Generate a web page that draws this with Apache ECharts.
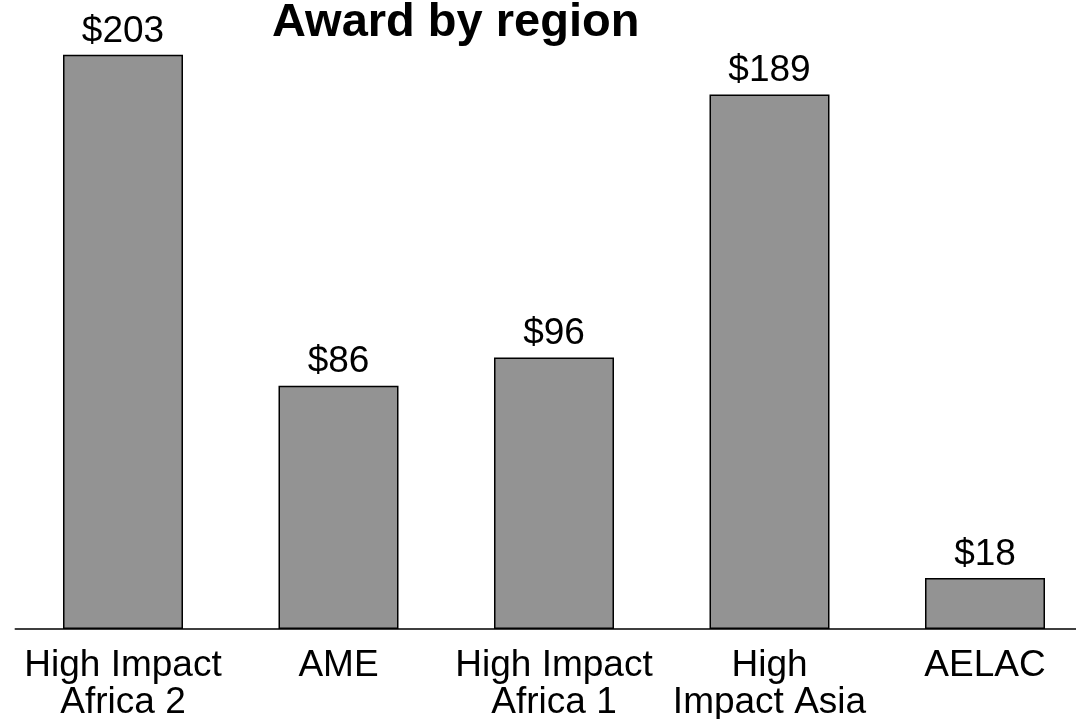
<!DOCTYPE html>
<html>
<head>
<meta charset="utf-8">
<script src="https://cdn.jsdelivr.net/npm/echarts@6/dist/echarts.min.js"></script>
<style>html,body{margin:0;padding:0;background:#fff;overflow:hidden;width:1076px;height:719px}#c{width:1100px;height:719px}</style>
</head>
<body>
<div id="c"></div>
<script>
const categories = ["High Impact\nAfrica 2", "AME", "High Impact\nAfrica 1", "High\nImpact Asia", "AELAC"];
const awards = [203, 86, 96, 189, 18];
const titleText = "Award by region";

const chart = echarts.init(document.getElementById('c'));
chart.setOption({
  animation: false,
  backgroundColor: '#ffffff',
  title: {
    text: titleText,
    left: 272,
    top: 0,
    padding: 0,
    textStyle: { fontFamily: 'Liberation Sans, Arial', fontWeight: 'bold', fontSize: 47, color: '#000' }
  },
  grid: { left: 15.25, width: 1077.5, top: 35, bottom: 90, containLabel: false, outerBoundsMode: 'none' },
  xAxis: {
    type: 'category',
    data: categories,
    axisLine: { lineStyle: { color: '#000', width: 1.5 } },
    axisTick: { show: false },
    axisLabel: { interval: 0, margin: 18, color: '#000', fontFamily: 'Liberation Sans, Arial', fontSize: 37, lineHeight: 37 }
  },
  yAxis: {
    type: 'value', min: 0, max: 210, show: false, splitLine: { show: false }
  },
  series: [{
    type: 'bar',
    data: awards,
    barWidth: 120,
    itemStyle: { color: '#939393', borderColor: '#000', borderWidth: 1.5 },
    label: {
      show: true, position: 'top', distance: 5,
      formatter: p => '$' + p.value,
      color: '#000', fontFamily: 'Liberation Sans, Arial', fontSize: 37
    }
  }]
});
</script>
</body>
</html>
